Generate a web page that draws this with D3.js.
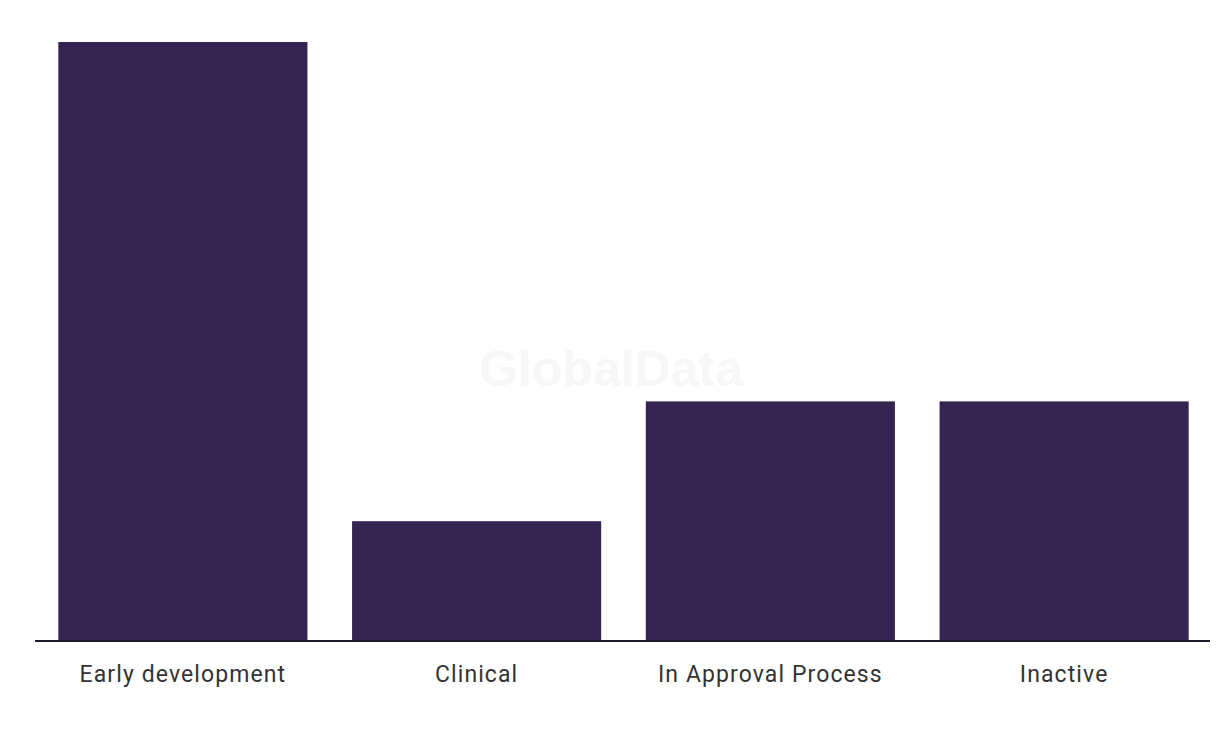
<!DOCTYPE html>
<html><head><meta charset="utf-8">
<script src="https://cdn.jsdelivr.net/npm/d3@7"></script>
<style>body{margin:0;background:#fff}svg{display:block}</style>
</head><body><svg id="c" width="1220" height="736"></svg>
<script>
const categories = ["Early development", "Clinical", "In Approval Process", "Inactive"];
const values = [5, 1, 2, 2];

const svg = d3.select("#c");
const x = d3.scaleBand().domain(categories).range([36, 1211]).paddingInner(0.152).paddingOuter(0.076);
const y = d3.scaleLinear().domain([0, 5]).range([641, 42]);

svg.append("text").attr("x", 611).attr("y", 386).attr("text-anchor", "middle")
  .attr("font-family", "Liberation Sans, Arial, sans-serif").attr("font-weight", "bold")
  .attr("font-size", 50).attr("fill", "#f7f7f7").text("GlobalData");

svg.selectAll("rect.bar").data(categories).enter().append("rect")
  .attr("class", "bar")
  .attr("x", d => x(d)).attr("width", x.bandwidth())
  .attr("y", (d, i) => y(values[i])).attr("height", (d, i) => y(0) - y(values[i]))
  .attr("fill", "#352452");

const ax = svg.append("g").attr("transform", "translate(0,641)").call(d3.axisBottom(x).tickSize(0).tickPadding(25));
ax.select(".domain").attr("stroke", "#1c1a2c").attr("stroke-width", 2).attr("d", "M35,0H1210");
ax.selectAll("text").attr("font-family", "Roboto, 'Noto Sans', sans-serif").attr("font-size", 23)
  .attr("letter-spacing", "1.1px").attr("fill", "#333");
</script></body></html>
